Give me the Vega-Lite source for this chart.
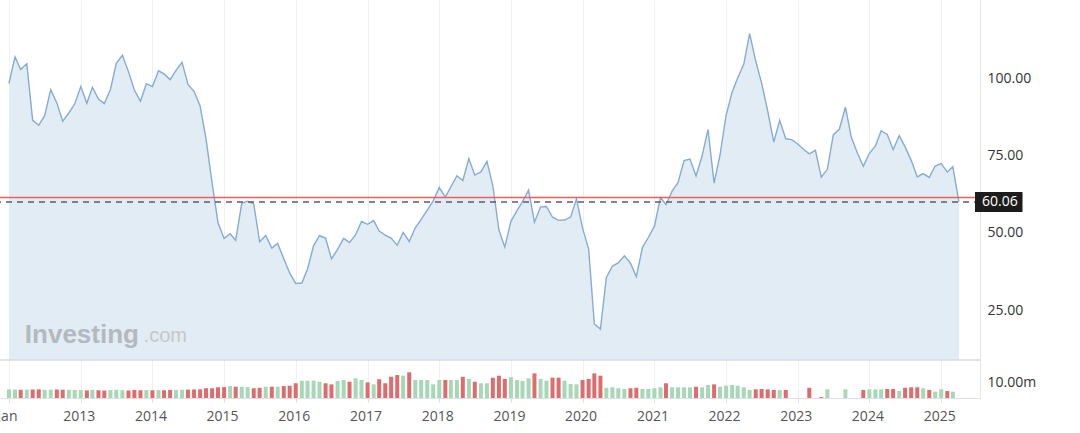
{
"$schema": "https://vega.github.io/schema/vega-lite/v6.json",
"width": 980, "height": 398,
"autosize": {"type": "none"},
"padding": {"left": 0, "top": 0, "right": 100, "bottom": 35},
"background": "white",
"config": {"view": {"stroke": null}, "font": "Open Sans", "axis": {"labelFont": "Open Sans"}},
"datasets": {
"oil": [
{"date":"2012-01-01","close":98.48,"vol":5.6,"dir":"up"},
{"date":"2012-02-01","close":107.07,"vol":5.5,"dir":"up"},
{"date":"2012-03-01","close":103.02,"vol":5.3,"dir":"down"},
{"date":"2012-04-01","close":104.87,"vol":5.4,"dir":"up"},
{"date":"2012-05-01","close":86.53,"vol":5.5,"dir":"down"},
{"date":"2012-06-01","close":84.96,"vol":5.6,"dir":"down"},
{"date":"2012-07-01","close":88.06,"vol":5.3,"dir":"up"},
{"date":"2012-08-01","close":96.47,"vol":5.4,"dir":"up"},
{"date":"2012-09-01","close":92.19,"vol":5.5,"dir":"down"},
{"date":"2012-10-01","close":86.24,"vol":5.4,"dir":"down"},
{"date":"2012-11-01","close":88.91,"vol":5.3,"dir":"up"},
{"date":"2012-12-01","close":91.82,"vol":5.2,"dir":"up"},
{"date":"2013-01-01","close":97.49,"vol":5.1,"dir":"up"},
{"date":"2013-02-01","close":92.05,"vol":4.9,"dir":"down"},
{"date":"2013-03-01","close":97.23,"vol":5.2,"dir":"up"},
{"date":"2013-04-01","close":93.46,"vol":5.0,"dir":"down"},
{"date":"2013-05-01","close":91.97,"vol":4.8,"dir":"down"},
{"date":"2013-06-01","close":96.56,"vol":5.1,"dir":"up"},
{"date":"2013-07-01","close":105.03,"vol":5.3,"dir":"up"},
{"date":"2013-08-01","close":107.65,"vol":5.0,"dir":"up"},
{"date":"2013-09-01","close":102.33,"vol":4.9,"dir":"down"},
{"date":"2013-10-01","close":96.38,"vol":5.2,"dir":"down"},
{"date":"2013-11-01","close":92.72,"vol":5.0,"dir":"down"},
{"date":"2013-12-01","close":98.42,"vol":5.1,"dir":"up"},
{"date":"2014-01-01","close":97.49,"vol":5.0,"dir":"down"},
{"date":"2014-02-01","close":102.59,"vol":5.1,"dir":"up"},
{"date":"2014-03-01","close":101.58,"vol":5.0,"dir":"down"},
{"date":"2014-04-01","close":99.74,"vol":5.2,"dir":"down"},
{"date":"2014-05-01","close":102.71,"vol":5.1,"dir":"up"},
{"date":"2014-06-01","close":105.37,"vol":5.3,"dir":"up"},
{"date":"2014-07-01","close":98.17,"vol":5.4,"dir":"down"},
{"date":"2014-08-01","close":95.96,"vol":5.5,"dir":"down"},
{"date":"2014-09-01","close":91.16,"vol":5.6,"dir":"down"},
{"date":"2014-10-01","close":80.54,"vol":6.3,"dir":"down"},
{"date":"2014-11-01","close":66.15,"vol":6.3,"dir":"down"},
{"date":"2014-12-01","close":53.27,"vol":6.9,"dir":"down"},
{"date":"2015-01-01","close":48.24,"vol":7.0,"dir":"down"},
{"date":"2015-02-01","close":49.76,"vol":7.7,"dir":"up"},
{"date":"2015-03-01","close":47.60,"vol":7.3,"dir":"down"},
{"date":"2015-04-01","close":59.63,"vol":7.3,"dir":"up"},
{"date":"2015-05-01","close":60.30,"vol":7.0,"dir":"up"},
{"date":"2015-06-01","close":59.47,"vol":6.3,"dir":"down"},
{"date":"2015-07-01","close":47.12,"vol":6.6,"dir":"down"},
{"date":"2015-08-01","close":49.20,"vol":7.3,"dir":"up"},
{"date":"2015-09-01","close":45.09,"vol":7.3,"dir":"down"},
{"date":"2015-10-01","close":46.59,"vol":7.3,"dir":"up"},
{"date":"2015-11-01","close":41.65,"vol":7.7,"dir":"down"},
{"date":"2015-12-01","close":37.04,"vol":7.9,"dir":"down"},
{"date":"2016-01-01","close":33.62,"vol":9.5,"dir":"down"},
{"date":"2016-02-01","close":33.75,"vol":11.2,"dir":"up"},
{"date":"2016-03-01","close":38.34,"vol":11.2,"dir":"up"},
{"date":"2016-04-01","close":45.92,"vol":11.2,"dir":"up"},
{"date":"2016-05-01","close":49.10,"vol":10.5,"dir":"up"},
{"date":"2016-06-01","close":48.33,"vol":9.5,"dir":"down"},
{"date":"2016-07-01","close":41.60,"vol":8.8,"dir":"down"},
{"date":"2016-08-01","close":44.70,"vol":11.0,"dir":"up"},
{"date":"2016-09-01","close":48.24,"vol":11.6,"dir":"up"},
{"date":"2016-10-01","close":46.86,"vol":10.5,"dir":"down"},
{"date":"2016-11-01","close":49.44,"vol":12.7,"dir":"up"},
{"date":"2016-12-01","close":53.72,"vol":11.6,"dir":"up"},
{"date":"2017-01-01","close":52.81,"vol":10.1,"dir":"down"},
{"date":"2017-02-01","close":54.01,"vol":8.8,"dir":"up"},
{"date":"2017-03-01","close":50.60,"vol":12.1,"dir":"down"},
{"date":"2017-04-01","close":49.33,"vol":9.5,"dir":"down"},
{"date":"2017-05-01","close":48.32,"vol":13.7,"dir":"down"},
{"date":"2017-06-01","close":46.04,"vol":14.8,"dir":"down"},
{"date":"2017-07-01","close":50.17,"vol":14.4,"dir":"up"},
{"date":"2017-08-01","close":47.23,"vol":16.6,"dir":"down"},
{"date":"2017-09-01","close":51.67,"vol":11.6,"dir":"up"},
{"date":"2017-10-01","close":54.38,"vol":11.6,"dir":"up"},
{"date":"2017-11-01","close":57.40,"vol":11.6,"dir":"up"},
{"date":"2017-12-01","close":60.42,"vol":8.8,"dir":"up"},
{"date":"2018-01-01","close":64.73,"vol":11.6,"dir":"up"},
{"date":"2018-02-01","close":61.64,"vol":11.6,"dir":"down"},
{"date":"2018-03-01","close":64.94,"vol":11.6,"dir":"up"},
{"date":"2018-04-01","close":68.57,"vol":11.6,"dir":"up"},
{"date":"2018-05-01","close":67.04,"vol":13.7,"dir":"down"},
{"date":"2018-06-01","close":74.15,"vol":12.3,"dir":"up"},
{"date":"2018-07-01","close":68.76,"vol":10.5,"dir":"down"},
{"date":"2018-08-01","close":69.80,"vol":9.5,"dir":"up"},
{"date":"2018-09-01","close":73.25,"vol":9.5,"dir":"up"},
{"date":"2018-10-01","close":65.31,"vol":13.1,"dir":"down"},
{"date":"2018-11-01","close":50.93,"vol":14.4,"dir":"down"},
{"date":"2018-12-01","close":45.41,"vol":12.3,"dir":"down"},
{"date":"2019-01-01","close":53.79,"vol":13.4,"dir":"up"},
{"date":"2019-02-01","close":57.22,"vol":11.6,"dir":"up"},
{"date":"2019-03-01","close":60.14,"vol":11.0,"dir":"up"},
{"date":"2019-04-01","close":63.91,"vol":12.7,"dir":"up"},
{"date":"2019-05-01","close":53.50,"vol":15.9,"dir":"down"},
{"date":"2019-06-01","close":58.47,"vol":12.3,"dir":"up"},
{"date":"2019-07-01","close":58.58,"vol":11.2,"dir":"up"},
{"date":"2019-08-01","close":55.10,"vol":13.1,"dir":"down"},
{"date":"2019-09-01","close":54.07,"vol":13.1,"dir":"down"},
{"date":"2019-10-01","close":54.18,"vol":11.2,"dir":"up"},
{"date":"2019-11-01","close":55.17,"vol":9.0,"dir":"up"},
{"date":"2019-12-01","close":61.06,"vol":8.8,"dir":"up"},
{"date":"2020-01-01","close":51.56,"vol":11.6,"dir":"down"},
{"date":"2020-02-01","close":44.76,"vol":12.3,"dir":"down"},
{"date":"2020-03-01","close":20.48,"vol":15.9,"dir":"down"},
{"date":"2020-04-01","close":18.84,"vol":14.4,"dir":"down"},
{"date":"2020-05-01","close":35.49,"vol":6.6,"dir":"up"},
{"date":"2020-06-01","close":39.27,"vol":6.9,"dir":"up"},
{"date":"2020-07-01","close":40.27,"vol":6.3,"dir":"up"},
{"date":"2020-08-01","close":42.61,"vol":5.8,"dir":"up"},
{"date":"2020-09-01","close":40.22,"vol":6.3,"dir":"down"},
{"date":"2020-10-01","close":35.79,"vol":6.6,"dir":"down"},
{"date":"2020-11-01","close":45.34,"vol":5.8,"dir":"up"},
{"date":"2020-12-01","close":48.52,"vol":5.8,"dir":"up"},
{"date":"2021-01-01","close":52.20,"vol":6.3,"dir":"up"},
{"date":"2021-02-01","close":61.50,"vol":6.9,"dir":"up"},
{"date":"2021-03-01","close":59.16,"vol":9.5,"dir":"down"},
{"date":"2021-04-01","close":63.58,"vol":6.9,"dir":"up"},
{"date":"2021-05-01","close":66.32,"vol":6.9,"dir":"up"},
{"date":"2021-06-01","close":73.47,"vol":6.9,"dir":"up"},
{"date":"2021-07-01","close":73.95,"vol":6.9,"dir":"up"},
{"date":"2021-08-01","close":68.50,"vol":7.3,"dir":"down"},
{"date":"2021-09-01","close":75.03,"vol":6.9,"dir":"up"},
{"date":"2021-10-01","close":83.57,"vol":8.4,"dir":"up"},
{"date":"2021-11-01","close":66.18,"vol":8.8,"dir":"down"},
{"date":"2021-12-01","close":75.21,"vol":7.3,"dir":"up"},
{"date":"2022-01-01","close":88.15,"vol":7.9,"dir":"up"},
{"date":"2022-02-01","close":95.72,"vol":8.4,"dir":"up"},
{"date":"2022-03-01","close":100.28,"vol":7.9,"dir":"up"},
{"date":"2022-04-01","close":104.69,"vol":6.9,"dir":"up"},
{"date":"2022-05-01","close":114.67,"vol":5.2,"dir":"up"},
{"date":"2022-06-01","close":105.76,"vol":5.6,"dir":"down"},
{"date":"2022-07-01","close":98.62,"vol":5.8,"dir":"down"},
{"date":"2022-08-01","close":89.55,"vol":5.6,"dir":"down"},
{"date":"2022-09-01","close":79.49,"vol":5.2,"dir":"down"},
{"date":"2022-10-01","close":86.53,"vol":5.2,"dir":"up"},
{"date":"2022-11-01","close":80.55,"vol":5.2,"dir":"down"},
{"date":"2022-12-01","close":80.26,"vol":null,"dir":"down"},
{"date":"2023-01-01","close":78.87,"vol":null,"dir":"down"},
{"date":"2023-02-01","close":77.05,"vol":null,"dir":"down"},
{"date":"2023-03-01","close":75.67,"vol":6.6,"dir":"down"},
{"date":"2023-04-01","close":76.78,"vol":null,"dir":"up"},
{"date":"2023-05-01","close":68.09,"vol":0.6,"dir":"down"},
{"date":"2023-06-01","close":70.64,"vol":5.6,"dir":"up"},
{"date":"2023-07-01","close":81.80,"vol":null,"dir":"up"},
{"date":"2023-08-01","close":83.63,"vol":null,"dir":"up"},
{"date":"2023-09-01","close":90.79,"vol":5.6,"dir":"up"},
{"date":"2023-10-01","close":81.02,"vol":null,"dir":"down"},
{"date":"2023-11-01","close":75.96,"vol":null,"dir":"down"},
{"date":"2023-12-01","close":71.65,"vol":5.2,"dir":"down"},
{"date":"2024-01-01","close":75.85,"vol":5.6,"dir":"up"},
{"date":"2024-02-01","close":78.26,"vol":5.6,"dir":"up"},
{"date":"2024-03-01","close":83.17,"vol":5.6,"dir":"up"},
{"date":"2024-04-01","close":81.93,"vol":5.8,"dir":"down"},
{"date":"2024-05-01","close":76.99,"vol":5.8,"dir":"down"},
{"date":"2024-06-01","close":81.54,"vol":4.5,"dir":"up"},
{"date":"2024-07-01","close":77.91,"vol":6.6,"dir":"down"},
{"date":"2024-08-01","close":73.55,"vol":6.9,"dir":"down"},
{"date":"2024-09-01","close":68.17,"vol":6.9,"dir":"down"},
{"date":"2024-10-01","close":69.26,"vol":6.3,"dir":"up"},
{"date":"2024-11-01","close":68.00,"vol":5.2,"dir":"down"},
{"date":"2024-12-01","close":71.72,"vol":4.1,"dir":"up"},
{"date":"2025-01-01","close":72.53,"vol":5.6,"dir":"up"},
{"date":"2025-02-01","close":69.76,"vol":4.5,"dir":"down"},
{"date":"2025-03-01","close":71.48,"vol":4.1,"dir":"up"},
{"date":"2025-04-01","close":60.06,"vol":null,"dir":"down"}
],
"levels": [
{"name": "prev_close", "value": 61.5},
{"name": "last", "value": 60.06}
]
},
"data": {"name": "oil"},
"layer": [
{
"layer": [
{
"mark": {"type": "area", "color": "#e2ecf4", "opacity": 1},
"encoding": {
"x": {"field": "date", "type": "temporal",
"scale": {"type": "utc", "domain": [{"year": 2011, "month": 12, "date": 12, "utc": true}, {"year": 2025, "month": 6, "date": 22, "utc": true}]},
"axis": {"orient": "bottom", "title": null,
"values": [{"year":2012,"month":1,"date":1,"utc":true},{"year":2013,"month":1,"date":1,"utc":true},{"year":2014,"month":1,"date":1,"utc":true},{"year":2015,"month":1,"date":1,"utc":true},{"year":2016,"month":1,"date":1,"utc":true},{"year":2017,"month":1,"date":1,"utc":true},{"year":2018,"month":1,"date":1,"utc":true},{"year":2019,"month":1,"date":1,"utc":true},{"year":2020,"month":1,"date":1,"utc":true},{"year":2021,"month":1,"date":1,"utc":true},{"year":2022,"month":1,"date":1,"utc":true},{"year":2023,"month":1,"date":1,"utc":true},{"year":2024,"month":1,"date":1,"utc":true},{"year":2025,"month":1,"date":1,"utc":true}],
"labelExpr": "utcyear(datum.value) == 2012 ? 'Jan' : utcFormat(datum.value, '%Y')",
"labelFontSize": 14, "labelColor": "#555555", "labelPadding": 7, "labelOffset": -2,
"labelOverlap": false, "labelBound": false, "labelFlush": false,
"grid": true, "gridColor": "#eef0f3",
"domainColor": "#e0e0e0", "tickColor": "#dddddd", "tickSize": 4}},
"y": {"field": "close", "type": "quantitative",
"scale": {"domain": [-3.53, 125.56], "nice": false, "zero": false},
"axis": {"orient": "right", "title": null, "values": [25, 50, 75, 100], "format": ".2f",
"labelFontSize": 14, "labelColor": "#333333", "labelPadding": 7,
"ticks": false, "grid": false, "domain": true, "domainColor": "#e4e4e4"}},
"y2": {"datum": 8.79}
}
},
{
"mark": {"type": "line", "color": "#86acd1", "strokeWidth": 1.4},
"encoding": {
"x": {"field": "date", "type": "temporal"},
"y": {"field": "close", "type": "quantitative"}
}
},
{
"data": {"values": [{"panel": "separator"}]},
"mark": {"type": "rule", "color": "#d6dce3", "strokeWidth": 1.5},
"encoding": {"y": {"datum": 8.79}}
},
{
"data": {"name": "levels"},
"transform": [{"filter": "datum.name == 'prev_close'"}],
"mark": {"type": "rule", "color": "#f25c5f", "strokeWidth": 1.3},
"encoding": {"y": {"field": "value", "type": "quantitative"}}
},
{
"data": {"name": "levels"},
"transform": [{"filter": "datum.name == 'last'"}],
"mark": {"type": "rule", "color": "#5a5f66", "strokeWidth": 1.5, "strokeDash": [6, 5]},
"encoding": {"y": {"field": "value", "type": "quantitative"}}
},
{
"data": {"name": "levels"},
"transform": [{"filter": "datum.name == 'last'"}],
"mark": {"type": "rect", "color": "#1c1c1c", "yOffset": -10, "y2Offset": 10},
"encoding": {
"x": {"datum": {"year": 2025, "month": 6, "date": 22, "utc": true}},
"x2": {"datum": {"year": 2026, "month": 2, "date": 19, "utc": true}},
"y": {"field": "value", "type": "quantitative"},
"y2": {"field": "value"}
}
},
{
"data": {"name": "levels"},
"transform": [{"filter": "datum.name == 'last'"}],
"mark": {"type": "text", "color": "#ffffff", "align": "left", "baseline": "middle", "dx": 7, "fontSize": 14, "font": "Open Sans"},
"encoding": {
"x": {"datum": {"year": 2025, "month": 6, "date": 22, "utc": true}},
"y": {"field": "value", "type": "quantitative"},
"text": {"field": "value", "type": "quantitative", "format": ".2f"}
}
},
{
"data": {"values": [{"label": "Investing"}]},
"mark": {"type": "text", "color": "#b4b9bf", "align": "left", "baseline": "alphabetic", "fontSize": 26, "fontWeight": "bold", "font": "Liberation Sans"},
"encoding": {
"x": {"datum": {"year": 2012, "month": 3, "date": 22, "utc": true}},
"y": {"datum": 14.3},
"text": {"field": "label"}
}
},
{
"data": {"values": [{"label": ".com"}]},
"mark": {"type": "text", "color": "#c3c8cd", "align": "left", "baseline": "alphabetic", "fontSize": 20, "font": "Liberation Sans"},
"encoding": {
"x": {"datum": {"year": 2013, "month": 11, "date": 17, "utc": true}},
"y": {"datum": 14.6},
"text": {"field": "label"}
}
}
]
},
{
"mark": {"type": "bar", "width": 4},
"encoding": {
"x": {"field": "date", "type": "temporal"},
"y": {"field": "vol", "type": "quantitative",
"scale": {"domain": [0, 256.8], "nice": false, "zero": true},
"axis": {"orient": "right", "title": null, "values": [10], "labelExpr": "'10.00m'",
"labelFontSize": 14, "labelColor": "#333333", "labelPadding": 7,
"ticks": false, "grid": false, "domain": false}},
"color": {"field": "dir", "type": "nominal",
"scale": {"domain": ["up", "down"], "range": ["#a6d7b6", "#e06b6d"]}, "legend": null}
}
}
],
"resolve": {"scale": {"y": "independent"}, "axis": {"y": "independent"}}
}
